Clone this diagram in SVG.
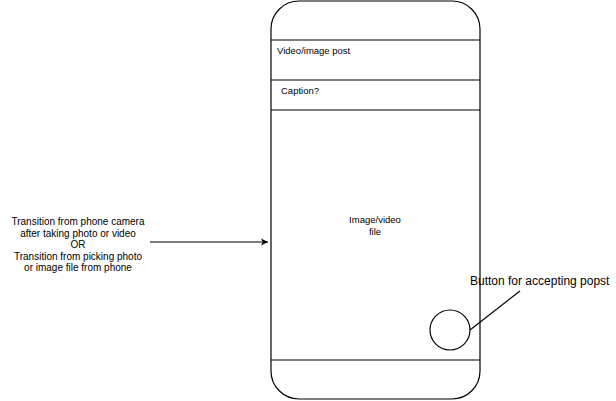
<svg xmlns="http://www.w3.org/2000/svg" width="616" height="401" viewBox="0 0 616 401">
<defs>
<style>
.s{fill:none;stroke:#000;stroke-width:1.2}
.t{font-family:"Liberation Sans",Arial,sans-serif;font-size:9.5px;fill:#000}
.l{font-family:"Liberation Sans",Arial,sans-serif;font-size:10px;fill:#000}
</style>
<marker id="ah" markerWidth="8" markerHeight="8" refX="7" refY="4" orient="auto" markerUnits="userSpaceOnUse">
<path d="M0,0.5 L7,4 L0,7.5 L1.8,4 Z" fill="#000"/>
</marker>
</defs>
<rect width="616" height="401" fill="#fff"/>
<g id="phone">
<rect class="s" x="271" y="1" width="209" height="398" rx="28" ry="28"/>
<line class="s" x1="271" y1="40" x2="480" y2="40"/>
<line class="s" x1="271" y1="80" x2="480" y2="80"/>
<line class="s" x1="271" y1="110" x2="480" y2="110"/>
<line class="s" x1="271" y1="360" x2="480" y2="360"/>
</g>
<g id="header"><text class="t" x="277" y="54">Video/image post</text></g>
<g id="caption"><text class="t" x="281" y="94">Caption?</text></g>
<g id="media"><text class="t" text-anchor="middle" x="375" y="223">Image/video</text><text class="t" text-anchor="middle" x="375" y="235">file</text></g>
<g id="button"><circle class="s" cx="450" cy="330" r="20"/></g>
<g id="button-label"><text x="470" y="285" style="font-family:'Liberation Sans',Arial,sans-serif;font-size:12px">Button for accepting popst</text></g>
<g id="transition-label" class="l" text-anchor="middle">
<text x="78" y="225">Transition from phone camera</text>
<text x="78" y="236.5">after taking photo or video</text>
<text x="78" y="248">OR</text>
<text x="78" y="259.5">Transition from picking photo</text>
<text x="78" y="271">or image file from phone</text>
</g>
<g id="connectors">
<line class="s" x1="150" y1="242" x2="268" y2="242" marker-end="url(#ah)"/>
<line class="s" stroke-width="1" x1="470" y1="330" x2="520" y2="291"/>
</g>
</svg>
